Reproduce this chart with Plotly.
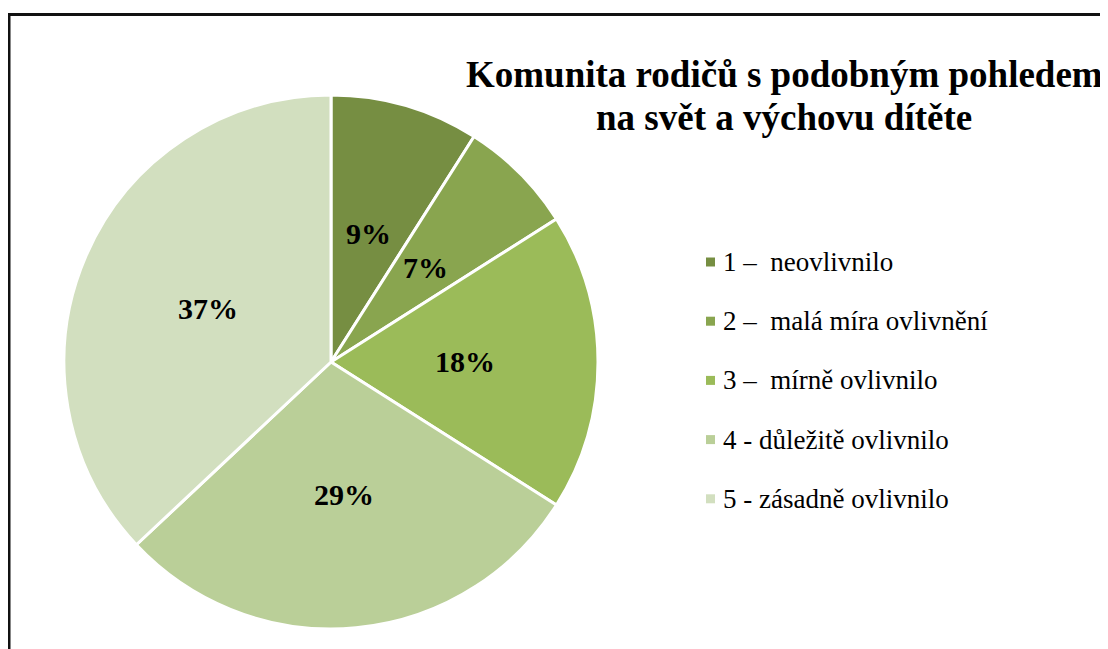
import math
import plotly.graph_objects as go

labels = ["1 –\u00a0 neovlivnilo", "2 –\u00a0 malá míra ovlivnění", "3 –\u00a0 mírně ovlivnilo",
          "4 - důležitě ovlivnilo", "5 - zásadně ovlivnilo"]
values = [9, 7, 18, 29, 37]
colors = ["#768E42", "#89A54F", "#9BBB59", "#BACF98", "#D2DFBF"]
title_lines = ["Komunita rodičů s podobným pohledem", "na svět a výchovu dítěte"]

# page body has an 8px margin; figure sized to fill the rest of the window
OFF = 8
W, H = 1108 - OFF, 649 - OFF

def px(x):
    return (x - OFF) / W

def py(y):
    return 1 - (y - OFF) / H

cx, cy, R = 331, 362, 267

fig = go.Figure()
fig.add_trace(go.Pie(
    labels=labels, values=values, sort=False, direction="clockwise", rotation=0,
    marker=dict(colors=colors, line=dict(color="white", width=3)),
    textinfo="none",
    domain=dict(x=[px(cx - R), px(cx + R)], y=[py(cy + R), py(cy - R)]),
    showlegend=False, hoverinfo="label+percent",
))

# data labels at half radius on each slice's mid angle (derived from values)
total = sum(values)
cum = 0
for v in values:
    th = (cum + v / 2) / total * 2 * math.pi
    cum += v
    lx = cx + 0.5 * R * math.sin(th)
    ly = cy - 0.5 * R * math.cos(th)
    fig.add_annotation(x=px(lx), y=py(ly), xref="paper", yref="paper", xanchor="center", yanchor="middle",
                       text=f"<b>{round(v / total * 100)}%</b>", showarrow=False,
                       font=dict(family="Liberation Serif", size=30, color="black"))

fig.add_annotation(x=px(784), y=py(74), xref="paper", yref="paper", xanchor="center", yanchor="middle",
                   text="<b>" + title_lines[0] + "</b>", showarrow=False,
                   font=dict(family="Liberation Serif", size=37, color="black"))
fig.add_annotation(x=px(784), y=py(117), xref="paper", yref="paper", xanchor="center", yanchor="middle",
                   text="<b>" + title_lines[1] + "</b>", showarrow=False,
                   font=dict(family="Liberation Serif", size=37, color="black"))

y0, dy = 262, 59.2
for i, (lab, col) in enumerate(zip(labels, colors)):
    yc = y0 + i * dy
    fig.add_shape(type="rect", xref="paper", yref="paper",
                  x0=px(706), x1=px(715), y0=py(yc + 4.5), y1=py(yc - 4.5),
                  fillcolor=col, line=dict(width=0))
    fig.add_annotation(x=px(721), y=py(yc), xref="paper", yref="paper", xanchor="left", yanchor="middle",
                       text=lab, showarrow=False,
                       font=dict(family="Liberation Serif", size=27, color="black"))

# chart border (left and top edges visible)
fig.add_shape(type="line", xref="paper", yref="paper", x0=px(9), x1=px(9), y0=0, y1=py(14.5),
              line=dict(color="#111111", width=3))
fig.add_shape(type="line", xref="paper", yref="paper", x0=px(7.5), x1=1, y0=py(14.5), y1=py(14.5),
              line=dict(color="#111111", width=3))

fig.update_layout(width=W, height=H, margin=dict(l=0, r=0, t=0, b=0),
                  paper_bgcolor="white", plot_bgcolor="white")
fig.write_html("out.html")
